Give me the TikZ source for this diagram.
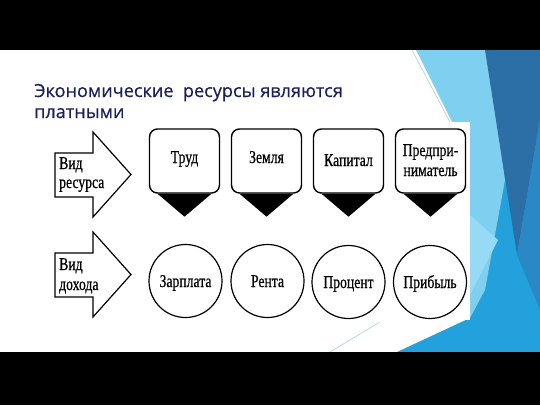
\documentclass[tikz,border=0pt]{standalone}
\usepackage{fontspec}
\setmainfont{Liberation Serif}
\newfontfamily\titlefont[FakeBold=0.5]{Open Sans}
\newfontfamily\condfont[FakeStretch=0.76,FakeBold=0.6]{Liberation Serif}
\definecolor{titleblue}{RGB}{28,32,90}
\definecolor{lightblue}{RGB}{127,207,240}
\definecolor{paleblue}{RGB}{150,218,245}
\definecolor{darkblue}{RGB}{44,111,166}
\definecolor{medblue}{RGB}{34,161,220}
\definecolor{stripblue}{RGB}{43,136,198}
\definecolor{thinline}{RGB}{175,215,235}
\tikzset{
  box/.style={draw, line width=1.4pt, rounded corners=8pt, minimum width=70pt, minimum height=64pt, inner sep=0pt},
  ring/.style={draw, circle, line width=1.2pt, minimum size=73pt, inner sep=0pt},
  lbl/.style={font=\condfont\fontsize{18}{20}\selectfont, anchor=base, inner sep=0pt},
  albl/.style={font=\condfont\fontsize{18}{20}\selectfont, anchor=base west, inner sep=0pt},
  bigarrow/.style={draw, line width=1.2pt, fill=white},
  pointer/.style={fill=black},
  titletext/.style={font=\titlefont\fontsize{18.1}{21}\selectfont, text=titleblue, anchor=base west, inner sep=0pt},
}
\begin{document}
\begin{tikzpicture}[x=1pt,y=-1pt]
\useasboundingbox (0,0) rectangle (540,405);
% slide background
\fill[white] (0,0) rectangle (540,405);
% decoration
\fill[medblue] (470,50) -- (540,50) -- (540,352) -- (397,352) -- (470,318) -- cycle;
\fill[lightblue] (416,50) -- (487,50) -- (505,180) -- (485,290) -- (470,318) -- (452,122) -- cycle;
\fill[paleblue] (470,215) -- (498,240) -- (470,295) -- cycle;
\fill[darkblue] (485,50) -- (540,50) -- (540,120) -- (517,255) -- cycle;
\fill[stripblue] (540,120) -- (517,255) -- (540,310) -- cycle;
\draw[thinline, line width=0.7pt] (412,50) -- (452,126);
\draw[thinline, line width=0.7pt] (330,352) -- (380,322);
% pasted image area
\fill[white] (140,122) rectangle (470,320);
% black bars
\fill[black] (0,0) rectangle (540,50);
\fill[black] (0,352) rectangle (540,405);
% title
\node[titletext] (t1) at (34,97) {Экономические\ \ ресурсы являются};
\node[titletext] (t2) at (34,118) {платными};
% arrows
\draw[bigarrow] (55,153) -- (93,153) -- (93,132) -- (131,174.5) -- (93,217) -- (93,197) -- (55,197) -- cycle;
\node[albl] (a1a) at (59,169) {Вид};
\node[albl] (a1b) at (59,188) {ресурса};
\draw[bigarrow] (55,253) -- (93,253) -- (93,232) -- (131,274.5) -- (93,317) -- (93,297) -- (55,297) -- cycle;
\node[albl] (a2a) at (59,270) {Вид};
\node[albl] (a2b) at (59,290) {дохода};
% resource boxes
\foreach \i/\cx in {1/184.5,2/266.5,3/348.5,4/430.5}{
  \node[box] (b\i) at (\cx,161) {};
  \fill[pointer] ([xshift=-27pt]b\i.south) -- ([xshift=27pt]b\i.south) -- ([yshift=-23pt]b\i.south) -- cycle;
}
\node[lbl] (l1) at (184.5,163) {Труд};
\node[lbl] (l2) at (266.5,163) {Земля};
\node[lbl] (l3) at (348.5,166) {Капитал};
\node[lbl] (l4a) at (430.5,156) {Предпри-};
\node[lbl] (l4b) at (430.5,176) {ниматель};
% income circles
\node[ring] (c1) at (185.5,281) {};
\node[ring] (c2) at (267.5,281) {};
\node[ring] (c3) at (348.5,282) {};
\node[ring] (c4) at (430,282) {};
\node[lbl] (k1) at (185.5,287) {Зарплата};
\node[lbl] (k2) at (267.5,287) {Рента};
\node[lbl] (k3) at (348.5,288) {Процент};
\node[lbl] (k4) at (430,288) {Прибыль};
\end{tikzpicture}
\end{document}
